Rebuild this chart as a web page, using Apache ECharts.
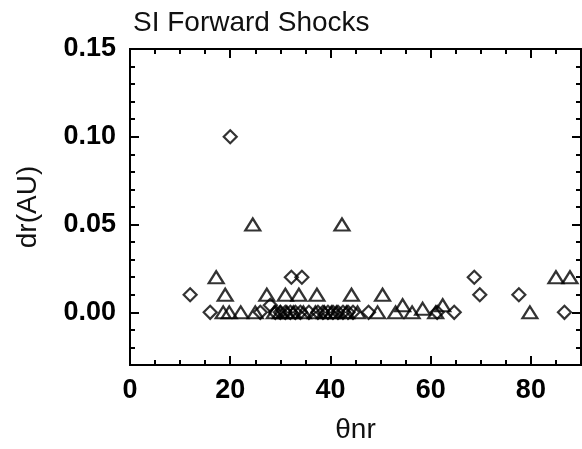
<!DOCTYPE html>
<html>
<head>
<meta charset="utf-8">
<script src="https://cdn.jsdelivr.net/npm/echarts@6/dist/echarts.min.js"></script>
<style>
  html, body { margin: 0; padding: 0; background: #fff; }
  #chart { width: 582px; height: 449px; }
</style>
</head>
<body>
<div id="chart"></div>
<script>
// Shock standoff distance dr (AU) against shock-normal angle θnr
const diamondPoints = [
  [12, 0.01], [16, 0], [20, 0.10], [26, 0], [28, 0.004], [29, 0], [30, 0],
  [31, 0], [32, 0], [33, 0], [34, 0], [32.2, 0.02], [34.3, 0.02], [35.7, 0],
  [37.5, 0], [38.5, 0], [39.5, 0], [40.5, 0], [41.5, 0], [42.5, 0], [43.5, 0],
  [44.5, 0], [47.6, 0], [61.3, 0], [64.7, 0], [68.7, 0.02], [69.8, 0.01],
  [77.6, 0.01], [86.7, 0]
];
const trianglePoints = [
  [17.2, 0.02], [19, 0.01], [18.6, 0], [19.8, 0], [22.1, 0], [24.5, 0.05],
  [25, 0], [27.3, 0.01], [28.8, 0], [30, 0], [31, 0.01], [31.3, 0], [32.6, 0],
  [33.7, 0.01], [34.6, 0], [37.3, 0.01], [37, 0], [38.8, 0], [40.2, 0],
  [41.2, 0], [42.3, 0.05], [43.2, 0], [44.2, 0.01], [45.4, 0], [49.4, 0],
  [50.4, 0.01], [53, 0], [54.4, 0.004], [56.3, 0], [58.4, 0.002], [61, 0],
  [62.4, 0.004], [79.8, 0], [85, 0.02], [87.8, 0.02]
];
const xTickLabels = [0, 20, 40, 60, 80];
const yTickLabels = [0, 0.05, 0.10, 0.15];

const X_MIN = 0, X_MAX = 90, Y_MIN = -0.03, Y_MAX = 0.15;
const FONT = '"Liberation Sans", Arial, Helvetica, sans-serif';
const INK = '#000';

const chart = echarts.init(document.getElementById('chart'), null, { renderer: 'canvas' });

function xAx(pos, opts) {
  return Object.assign({
    type: 'value', position: pos, min: X_MIN, max: X_MAX,
    splitLine: { show: false },
    axisLine: { show: true, onZero: false, lineStyle: { color: INK, width: 2 } },
    axisLabel: { show: false }
  }, opts);
}
function yAx(pos, opts) {
  return Object.assign({
    type: 'value', position: pos, min: Y_MIN, max: Y_MAX,
    splitLine: { show: false },
    axisLine: { show: true, onZero: false, lineStyle: { color: INK, width: 2 } },
    axisLabel: { show: false }
  }, opts);
}
const minorTick = { show: true, inside: true, length: 5, lineStyle: { color: INK, width: 2 } };
const majorTick = (vals) => ({ show: true, inside: true, length: 9, customValues: vals, lineStyle: { color: INK, width: 2 } });

chart.setOption({
  animation: false,
  backgroundColor: '#fff',
  title: {
    text: 'SI Forward Shocks', left: 128, top: 4,
    textStyle: { fontFamily: FONT, fontSize: 28, fontWeight: 'normal', color: '#111' }
  },
  grid: { left: 130, right: 1, top: 49, bottom: 80, containLabel: false },
  xAxis: [
    xAx('bottom', {
      interval: 5, axisTick: minorTick,
      name: 'θnr', nameLocation: 'middle', nameGap: 51,
      nameTextStyle: { fontFamily: FONT, fontSize: 28, color: '#111' }
    }),
    xAx('bottom', {
      axisTick: majorTick(xTickLabels),
      axisLabel: {
        show: true, customValues: xTickLabels, margin: 12,
        fontFamily: FONT, fontSize: 27, fontWeight: 'bold', color: INK
      }
    }),
    xAx('top', { interval: 5, axisTick: minorTick }),
    xAx('top', { axisTick: majorTick(xTickLabels) })
  ],
  yAxis: [
    yAx('left', {
      interval: 0.01, axisTick: minorTick,
      name: 'dr(AU)', nameLocation: 'middle', nameGap: 88, nameRotate: 90,
      nameTextStyle: { fontFamily: FONT, fontSize: 28, color: '#111' }
    }),
    yAx('left', {
      axisTick: majorTick(yTickLabels),
      axisLabel: {
        show: true, customValues: yTickLabels, margin: 14,
        formatter: (v) => v.toFixed(2),
        fontFamily: FONT, fontSize: 27, fontWeight: 'bold', color: INK
      }
    }),
    yAx('right', { interval: 0.01, axisTick: minorTick }),
    yAx('right', { axisTick: majorTick(yTickLabels) })
  ],
  series: [
    {
      type: 'scatter', name: 'diamonds', data: diamondPoints,
      xAxisIndex: 0, yAxisIndex: 0,
      symbol: 'diamond', symbolSize: 13,
      itemStyle: { color: 'rgba(0,0,0,0)', borderColor: INK, borderWidth: 2.2 }
    },
    {
      type: 'scatter', name: 'triangles', data: trianglePoints,
      xAxisIndex: 0, yAxisIndex: 0,
      symbol: 'triangle', symbolSize: [15, 12],
      itemStyle: { color: 'rgba(0,0,0,0)', borderColor: INK, borderWidth: 2.2 }
    }
  ]
});
</script>
</body>
</html>
